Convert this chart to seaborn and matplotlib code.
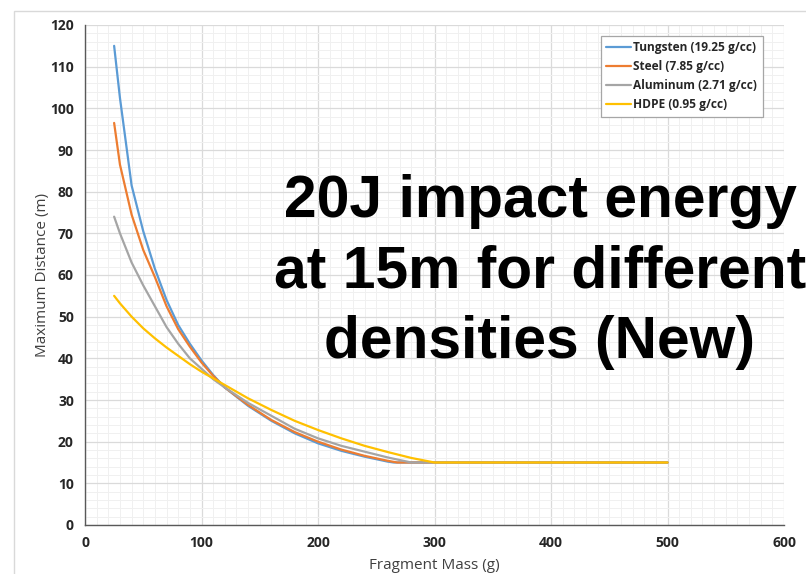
import numpy as np
import pandas as pd
import matplotlib
matplotlib.use("Agg")
import matplotlib.pyplot as plt
import seaborn as sns
from matplotlib.ticker import MultipleLocator
from matplotlib.patches import Rectangle
from matplotlib.lines import Line2D

# Fragment mass (g) sample points and maximum throw distance (m) per material
tungsten_mass = [25, 30, 40, 50, 60, 70, 80, 90, 100, 110, 120, 140, 160, 180, 200, 220, 240, 260, 265, 500]
tungsten_dist = [115, 102.5, 81.5, 70.5, 61.5, 54, 48, 43.5, 39.5, 36, 33, 28.6, 25, 22, 19.6, 17.8, 16.4, 15.2, 15, 15]

steel_mass = [25, 30, 40, 50, 60, 70, 80, 90, 100, 110, 120, 140, 160, 180, 200, 220, 240, 260, 268, 500]
steel_dist = [96.5, 86.5, 74.5, 66, 59.5, 52.5, 47, 42.8, 39, 35.8, 33, 28.8, 25.2, 22.3, 20, 18.1, 16.6, 15.4, 15, 15]

aluminum_mass = [25, 30, 40, 50, 60, 70, 80, 90, 100, 110, 120, 140, 160, 180, 200, 220, 240, 260, 280, 500]
aluminum_dist = [74, 70, 63, 57.5, 52.5, 47.5, 43.5, 40, 37.5, 35, 33, 29.3, 26.2, 23.1, 20.8, 19.0, 17.6, 16.2, 15, 15]

hdpe_mass = [25, 30, 40, 50, 60, 70, 80, 90, 100, 110, 120, 140, 160, 180, 200, 220, 240, 260, 280, 300, 500]
hdpe_dist = [55, 53.2, 50, 47.2, 44.8, 42.6, 40.6, 38.6, 36.8, 35.2, 33.6, 30.4, 27.6, 25, 22.8, 20.8, 19.0, 17.5, 16.1, 15, 15]

materials = ["Tungsten (19.25 g/cc)", "Steel (7.85 g/cc)", "Aluminum (2.71 g/cc)", "HDPE (0.95 g/cc)"]
colors = ["#5B9BD5", "#ED7D31", "#A5A5A5", "#FFC000"]

x_ticks = [0, 100, 200, 300, 400, 500, 600]
y_ticks = [0, 10, 20, 30, 40, 50, 60, 70, 80, 90, 100, 110, 120]

headline = ["20J impact energy", "at 15m for different", "densities (New)"]

frames = []
for name, m, d in zip(materials,
                      [tungsten_mass, steel_mass, aluminum_mass, hdpe_mass],
                      [tungsten_dist, steel_dist, aluminum_dist, hdpe_dist]):
    frames.append(pd.DataFrame({"mass": m, "dist": d, "material": name}))
df = pd.concat(frames, ignore_index=True)

sns.set_style("white")
small_font = ["Liberation Sans Narrow", "Open Sans", "DejaVu Sans"]
plt.rcParams["font.family"] = small_font

fig = plt.figure(figsize=(8.06, 5.74), dpi=100)
W, H = 806, 574
ax = fig.add_axes([85 / W, 1 - 525 / H, 699 / W, 500 / H])

# outer chart-area frame
fig.patches.append(Rectangle((14 / W, -0.2), 2.0, 1.2 - 11 / H, transform=fig.transFigure,
                             fill=False, edgecolor="#d9d9d9", lw=1.0, zorder=0))

sns.lineplot(data=df, x="mass", y="dist", hue="material", hue_order=materials,
             palette=colors, sort=False, estimator=None, legend=False,
             linewidth=1.6, ax=ax)

ax.set_xlim(0, 600)
ax.set_ylim(0, 120)
ax.set_xticks(x_ticks)
ax.set_yticks(y_ticks)
ax.xaxis.set_minor_locator(MultipleLocator(10))
ax.yaxis.set_minor_locator(MultipleLocator(2))
ax.grid(which="major", color="#dadada", lw=0.9)
ax.grid(which="minor", color="#f0f0f0", lw=0.7)
ax.set_axisbelow(True)

for s in ["top", "right"]:
    ax.spines[s].set_visible(False)
for s in ["left", "bottom"]:
    ax.spines[s].set_color("#595959")
    ax.spines[s].set_linewidth(1.0)

ax.tick_params(which="major", direction="out", length=5, width=0.9, color="#595959",
               labelsize=10, labelcolor="#262626", pad=3)
ax.tick_params(which="minor", direction="inout", length=3, width=0.7, color="#7f7f7f")
for lab in ax.get_xticklabels() + ax.get_yticklabels():
    lab.set_fontweight("bold")

ax.set_xlabel("Fragment Mass (g)", fontsize=11, color="#404040", labelpad=6)
ax.set_ylabel("Maximum Distance (m)", fontsize=11, color="#404040", labelpad=0)

handles = [Line2D([], [], color=c, lw=1.6) for c in colors]
leg = ax.legend(handles, materials, loc="upper left",
                bbox_to_anchor=(601 / W, 1 - 36 / H), bbox_transform=fig.transFigure,
                fontsize=8.6, frameon=True, fancybox=False, framealpha=1,
                handlelength=2.1, handletextpad=0.15, labelspacing=0.5,
                borderpad=0.45, borderaxespad=0)
leg.get_frame().set_edgecolor("#a6a6a6")
leg.get_frame().set_linewidth(0.9)
for t in leg.get_texts():
    t.set_color("#262626")
    t.set_fontweight("bold")

for i, line in enumerate(headline):
    fig.text(540 / W, 1 - (217 + 70.5 * i) / H, line, ha="center", va="baseline",
             fontsize=42.3, fontweight="bold", color="black",
             family=["Liberation Sans", "DejaVu Sans"])

fig.savefig("out.png", dpi=100)
